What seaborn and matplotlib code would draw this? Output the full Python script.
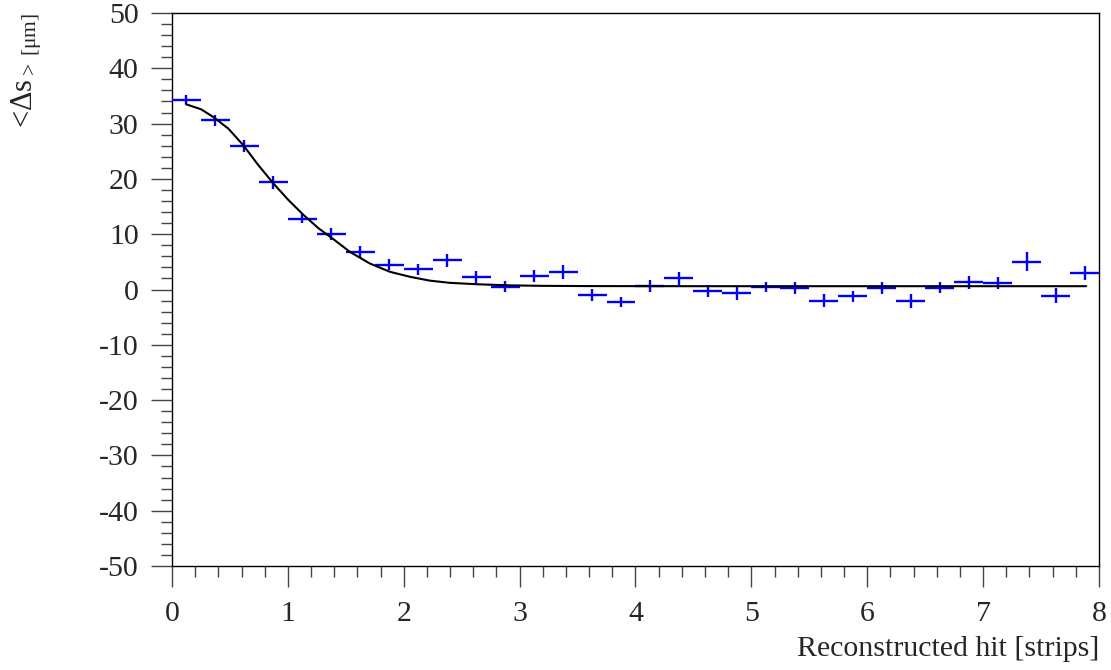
import matplotlib
matplotlib.use("Agg")
import matplotlib.pyplot as plt
import seaborn as sns
from matplotlib.ticker import MultipleLocator

# binned residual means (bin centres, 0.25 strip wide bins)
bin_centers = [0.125, 0.375, 0.625, 0.875, 1.125, 1.375, 1.625, 1.875,
               2.125, 2.375, 2.625, 2.875, 3.125, 3.375, 3.625, 3.875,
               4.125, 4.375, 4.625, 4.875, 5.125, 5.375, 5.625, 5.875,
               6.125, 6.375, 6.625, 6.875, 7.125, 7.375, 7.625, 7.875]
mean_ds = [34.3, 30.6, 25.9, 19.4, 12.8, 10.0, 6.8, 4.5,
           3.7, 5.3, 2.3, 0.5, 2.4, 3.2, -1.0, -2.3,
           0.7, 2.0, -0.3, -0.7, 0.45, 0.3, -2.0, -1.2,
           0.3, -2.1, 0.3, 1.3, 1.2, 5.0, -1.1, 3.0]
mean_err = [0.8, 1.0, 1.1, 1.2, 0.8, 1.1, 1.1, 1.0,
            1.0, 1.2, 1.1, 1.0, 1.1, 1.3, 1.1, 0.9,
            1.1, 1.1, 1.1, 1.2, 0.9, 1.1, 1.2, 1.0,
            1.1, 1.2, 1.0, 1.2, 1.1, 1.7, 1.4, 1.3]
bin_half_width = [0.125] * len(bin_centers)

# fitted curve
fit_x = [0.121, 0.25, 0.356, 0.486, 0.615, 0.745, 0.874, 1.004, 1.134,
         1.263, 1.393, 1.536, 1.708, 1.881, 2.053, 2.226, 2.40, 2.657,
         2.916, 3.2, 3.6, 4.5, 6.0, 7.89]
fit_y = [33.5, 32.6, 31.2, 29.1, 26.1, 22.5, 19.2, 16.2, 13.5,
         11.1, 9.1, 6.8, 4.7, 3.2, 2.3, 1.6, 1.2, 0.93,
         0.75, 0.66, 0.62, 0.6, 0.6, 0.6]

sns.set_theme(style="ticks")
plt.rcParams["font.family"] = ["Liberation Serif", "DejaVu Serif"]
plt.rcParams["mathtext.fontset"] = "custom"
plt.rcParams["mathtext.rm"] = "Liberation Serif"
plt.rcParams["mathtext.it"] = "Liberation Serif:italic"
plt.rcParams["axes.unicode_minus"] = False

fig = plt.figure(figsize=(11.11, 6.70), dpi=100)
ax = fig.add_axes([0.1548, 0.1552, 0.8344, 0.8254])

ax.errorbar(bin_centers, mean_ds, xerr=bin_half_width, yerr=mean_err,
            fmt="none", ecolor="#0000ff", elinewidth=1.7, capsize=0, zorder=3)
sns.lineplot(x=fit_x, y=fit_y, ax=ax, color="black", linewidth=1.5,
             sort=False, estimator=None, zorder=4)

ax.set_xlim(0, 8)
ax.set_ylim(-50, 50)
ax.xaxis.set_major_locator(MultipleLocator(1))
ax.xaxis.set_minor_locator(MultipleLocator(0.2))
ax.yaxis.set_major_locator(MultipleLocator(10))
ax.yaxis.set_minor_locator(MultipleLocator(2))

ax.tick_params(which="both", direction="out", top=False, right=False,
               color="#444444", labelsize=21.5)
ax.tick_params(which="major", length=15, width=1.0)
ax.tick_params(which="minor", length=8, width=1.0)
ax.tick_params(axis="x", which="major", pad=10)
ax.tick_params(axis="y", which="major", pad=9)

for s in ax.spines.values():
    s.set_color("black")
    s.set_linewidth(1.0)

ax.set_xlabel("Reconstructed hit [strips]", fontsize=21.5, loc="right")
ax.xaxis.set_label_coords(1.0, -0.127)
ax.set_ylabel(r"<Δs$_{\mathregular{>\ [μm]}}$", fontsize=22, loc="top")
ax.yaxis.set_label_coords(-0.138, 1.0)

fig.savefig("out.png", dpi=100)
